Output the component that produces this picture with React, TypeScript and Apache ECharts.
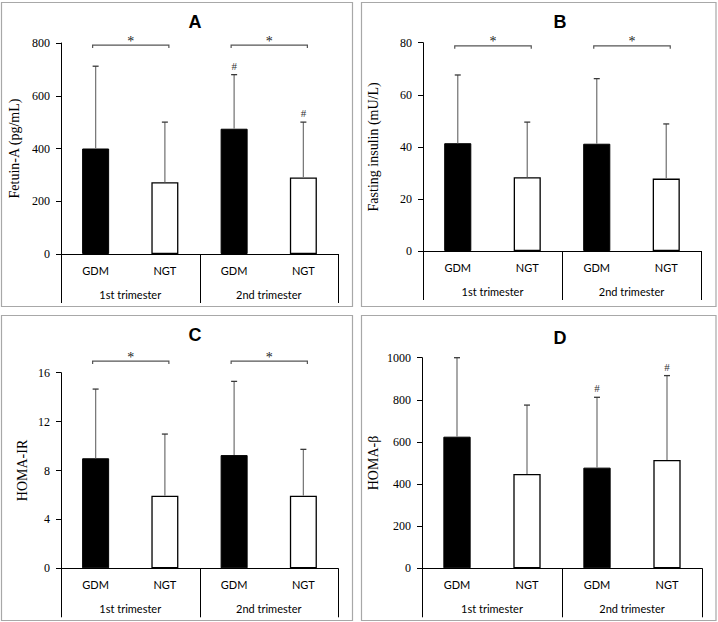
import React, { useEffect, useRef } from "react";
import * as echarts from "echarts";

const groups = ["GDM", "NGT", "GDM", "NGT"];
const trimesters = ["1st trimester", "2nd trimester"];

// Panel A: Fetuin-A (pg/mL)
const fetuinMean = [400, 272, 475, 290];
const fetuinUpper = [712, 500, 680, 500];
const fetuinHash = [2, 3];
const fetuinBrackets = [[0, 1, 792], [2, 3, 792]];

// Panel B: Fasting insulin (mU/L)
const insulinMean = [41.4, 28.3, 41.2, 27.8];
const insulinUpper = [67.6, 49.5, 66.2, 48.8];
const insulinHash: number[] = [];
const insulinBrackets = [[0, 1, 78.8], [2, 3, 78.8]];

// Panel C: HOMA-IR
const homaIRMean = [9.0, 5.94, 9.26, 5.94];
const homaIRUpper = [14.66, 10.98, 15.29, 9.73];
const homaIRHash: number[] = [];
const homaIRBrackets = [[0, 1, 16.95], [2, 3, 16.95]];

// Panel D: HOMA-β
const homaBMean = [625, 448, 478, 514];
const homaBUpper = [1000, 775, 812, 915];
const homaBHash = [2, 3];
const homaBBrackets: number[][] = [];

// group dividers below the axis: [category index, side]
const dividers = [[0, -1], [2, -1], [3, 1]];

const panels = [
  { label: "A", yName: "Fetuin-A (pg/mL)", max: 800, interval: 200, mean: fetuinMean, upper: fetuinUpper, hash: fetuinHash, brackets: fetuinBrackets,
    grid: { left: 61, top: 43, width: 277, height: 211 }, nameGap: 40, box: [1.5, 2.5, 351, 304], titlePos: [195, 22] },
  { label: "B", yName: "Fasting insulin (mU/L)", max: 80, interval: 20, mean: insulinMean, upper: insulinUpper, hash: insulinHash, brackets: insulinBrackets,
    grid: { left: 423, top: 42.7, width: 278, height: 208.3 }, nameGap: 43, box: [361.5, 2.5, 354.5, 304], titlePos: [560, 22] },
  { label: "C", yName: "HOMA-IR", max: 16, interval: 4, mean: homaIRMean, upper: homaIRUpper, hash: homaIRHash, brackets: homaIRBrackets,
    grid: { left: 61, top: 372.7, width: 277, height: 195.6 }, nameGap: 32, box: [1.5, 315.5, 351, 305], titlePos: [195, 335] },
  { label: "D", yName: "HOMA-β", max: 1000, interval: 200, mean: homaBMean, upper: homaBUpper, hash: homaBHash, brackets: homaBBrackets,
    grid: { left: 422, top: 357.7, width: 280, height: 210.6 }, nameGap: 42, box: [361.5, 315.5, 354.5, 305], titlePos: [560, 338] },
];

const serif = "'Liberation Serif', 'Times New Roman', serif";
const sans = "Lato, 'Open Sans', sans-serif";

const errRender = (params: any, api: any) => {
  const x = api.value(0);
  const p0 = api.coord([x, api.value(1)]);
  const p1 = api.coord([x, api.value(2)]);
  return {
    type: "group",
    children: [
      { type: "line", shape: { x1: p0[0], y1: p0[1], x2: p1[0], y2: p1[1] }, style: { stroke: "#7a7a7a", lineWidth: 1.3 } },
      { type: "line", shape: { x1: p1[0] - 3, y1: p1[1], x2: p1[0] + 3, y2: p1[1] }, style: { stroke: "#3a3a3a", lineWidth: 1.3 } },
    ],
  };
};

const hashRender = (params: any, api: any) => {
  const p = api.coord([api.value(0), api.value(1)]);
  return {
    type: "text",
    x: p[0],
    y: p[1] - 9,
    style: { text: "#", fill: "#333", font: `11px ${serif}`, align: "center", verticalAlign: "middle" },
  };
};

const bracketRender = (params: any, api: any) => {
  const p0 = api.coord([api.value(0), api.value(2)]);
  const p1 = api.coord([api.value(1), api.value(2)]);
  const x0 = p0[0] - 3;
  const x1 = p1[0] + 4;
  const y = p0[1];
  return {
    type: "group",
    children: [
      { type: "polyline", shape: { points: [[x0, y + 3], [x0, y], [x1, y], [x1, y + 3]] }, style: { stroke: "#555", lineWidth: 1.2, fill: "none" } },
      { type: "text", x: (x0 + x1) / 2, y: y - 4, style: { text: "*", fill: "#222", font: `14px ${serif}`, align: "center", verticalAlign: "middle" } },
    ],
  };
};

const dividerRender = (params: any, api: any) => {
  const c = api.coord([api.value(0), 0]);
  const band = api.size([1, 0])[0];
  const x = Math.round(c[0] + (api.value(1) * band) / 2) + 0.5;
  return {
    type: "line",
    shape: { x1: x, y1: c[1], x2: x, y2: c[1] + 49 },
    style: { stroke: "#000", lineWidth: 1 },
  };
};

export default function App() {
  const ref = useRef<HTMLDivElement>(null);
  useEffect(() => {
    if (!ref.current) return;
    const chart = echarts.init(ref.current, undefined, { renderer: "svg" });
    const grid: any[] = [];
    const xAxis: any[] = [];
    const yAxis: any[] = [];
    const series: any[] = [];
    const graphic: any[] = [];
    panels.forEach((p, i) => {
      grid.push({ ...p.grid, containLabel: false });
      xAxis.push({
        type: "category", gridIndex: i, data: groups, position: "bottom",
        axisLine: { show: true, lineStyle: { color: "#000", width: 1 } },
        axisTick: { show: false },
        axisLabel: { margin: 11, color: "#000", fontFamily: sans, fontSize: 11 },
      });
      xAxis.push({
        type: "category", gridIndex: i, data: trimesters, position: "bottom",
        axisLine: { show: false },
        axisTick: { show: false },
        axisLabel: { margin: 35, color: "#000", fontFamily: sans, fontSize: 11 },
      });
      yAxis.push({
        type: "value", gridIndex: i, min: 0, max: p.max, interval: p.interval,
        name: p.yName, nameLocation: "middle", nameGap: p.nameGap, nameRotate: 90,
        nameTextStyle: { fontFamily: serif, fontSize: 14, color: "#000" },
        axisLine: { show: true, lineStyle: { color: "#000", width: 1 } },
        axisTick: { show: true, length: 5, lineStyle: { color: "#000" } },
        axisLabel: { margin: 11, color: "#000", fontFamily: serif, fontSize: 12, formatter: (v: number) => String(v) },
        splitLine: { show: false },
      });
      series.push({
        type: "bar", xAxisIndex: i * 2, yAxisIndex: i, barWidth: "39%",
        data: p.mean.map((v, k) => ({
          value: v,
          itemStyle: k % 2 === 0
            ? { color: "#000", borderColor: "#000", borderWidth: 1 }
            : { color: "#fff", borderColor: "#000", borderWidth: 1.3 },
        })),
      });
      series.push({
        type: "custom", xAxisIndex: i * 2, yAxisIndex: i, clip: false, z: 5,
        renderItem: errRender, encode: { x: 0, y: [1, 2] },
        data: p.mean.map((m, k) => [k, m, p.upper[k]]),
      });
      series.push({
        type: "custom", xAxisIndex: i * 2, yAxisIndex: i, clip: false, z: 5,
        renderItem: dividerRender, encode: { x: 0 },
        data: dividers,
      });
      if (p.hash.length) {
        series.push({
          type: "custom", xAxisIndex: i * 2, yAxisIndex: i, clip: false, z: 5,
          renderItem: hashRender, encode: { x: 0, y: 1 },
          data: p.hash.map((k) => [k, p.upper[k]]),
        });
      }
      if (p.brackets.length) {
        series.push({
          type: "custom", xAxisIndex: i * 2, yAxisIndex: i, clip: false, z: 5,
          renderItem: bracketRender, encode: { x: [0, 1], y: 2 },
          data: p.brackets,
        });
      }
      graphic.push({
        type: "rect", shape: { x: p.box[0], y: p.box[1], width: p.box[2], height: p.box[3] },
        style: { fill: "none", stroke: "#a8a8a8", lineWidth: 1.2 }, silent: true, z: -1,
      });
      graphic.push({
        type: "text", x: p.titlePos[0], y: p.titlePos[1],
        style: { text: p.label, font: `bold 18px 'Liberation Sans', Arial, sans-serif`, fill: "#000", align: "center", verticalAlign: "middle" },
      });
    });
    chart.setOption({
      animation: false,
      backgroundColor: "#fff",
      grid, xAxis, yAxis, series, graphic,
    });
    return () => chart.dispose();
  }, []);
  return <div ref={ref} style={{ position: "absolute", left: 0, top: 0, width: 718, height: 622 }} />;
}
